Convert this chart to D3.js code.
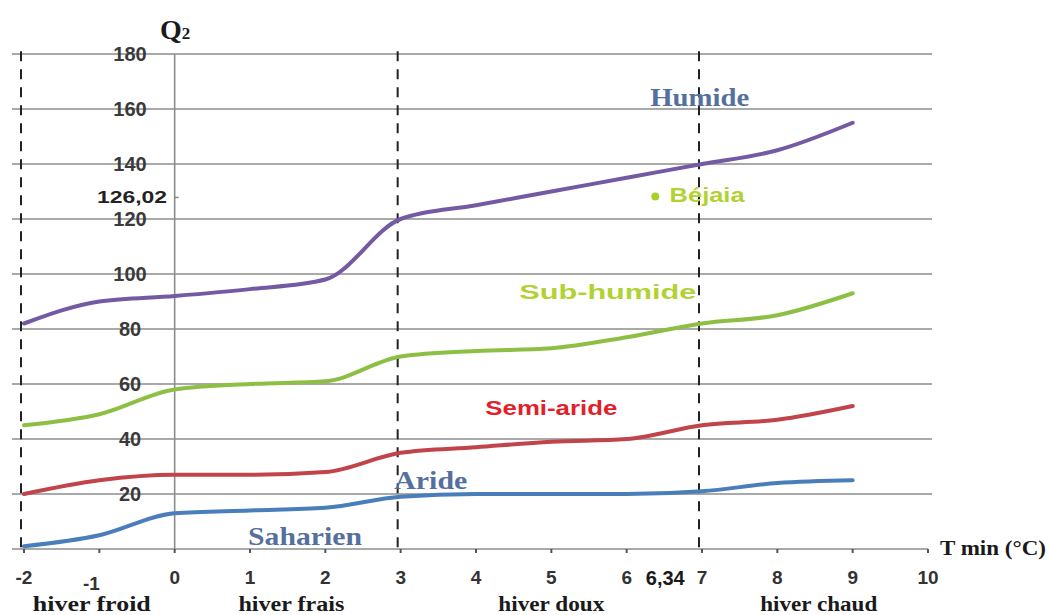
<!DOCTYPE html>
<html>
<head>
<meta charset="utf-8">
<script src="https://cdn.jsdelivr.net/npm/d3@7"></script>
<style>
  body { margin: 0; background: #fff; }
  svg { display: block; }
</style>
</head>
<body>
<script>
//size of the page
var w = 1049;
var h = 615;

//temperature values (T min) and Q2 values
var tmin = [-2, -1, 0, 1, 2, 3, 4, 5, 6, 7, 8, 9];
var humide = [82, 90, 92, 94.5, 98, 120, 125, 130, 135, 140, 145, 155];
var subHumide = [45, 49, 58, 60, 61, 70, 72, 73, 77, 82, 85, 93];
var semiAride = [20, 25, 27, 27, 28, 35, 37, 39, 40, 45, 47, 52];
var aride = [1, 5, 13, 14, 15, 19, 20, 20, 20, 21, 24, 25];

//ticks and the limits between the winter types
var xTicks = [-2, -1, 0, 1, 2, 3, 4, 5, 6, 7, 8, 9, 10];
var yTicks = [20, 40, 60, 80, 100, 120, 140, 160, 180];
var limits = [-2, 3, 7];
var winters = ["hiver froid", "hiver frais", "hiver doux", "hiver chaud"];
var winterPos = [-1.1, 1.55, 5, 8.55];

//Béjaia station
var bejaia = [6.34, 126.02];

var svg = d3.select("body")
            .append("svg")
            .attr("width", w)
            .attr("height", h);

var sans = "Liberation Sans, Arial, sans-serif";
var serif = "Liberation Serif, Times New Roman, serif";

//scales
var x = d3.scaleLinear().domain([-2, 10]).range([24, 928]);
var y = d3.scaleLinear().domain([0, 180]).range([549, 54]);

//horizontal grid lines
svg.selectAll("line.grid")
    .data(yTicks)
    .enter()
    .append("line")
    .attr("class", "grid")
    .attr("x1", 12)
    .attr("x2", 932)
    .attr("y1", function(d) { return y(d); })
    .attr("y2", function(d) { return y(d); })
    .attr("stroke", "#8c8c8c")
    .attr("stroke-width", 1.6);

//x axis line with small ticks
svg.append("line")
    .attr("x1", 12).attr("x2", x(10))
    .attr("y1", y(0)).attr("y2", y(0))
    .attr("stroke", "#8c8c8c")
    .attr("stroke-width", 1.6);

svg.selectAll("line.xtick")
    .data(xTicks)
    .enter()
    .append("line")
    .attr("class", "xtick")
    .attr("x1", function(d) { return x(d); })
    .attr("x2", function(d) { return x(d); })
    .attr("y1", y(0))
    .attr("y2", y(0) + 4)
    .attr("stroke", "#555")
    .attr("stroke-width", 2);

//vertical axis at 0 °C
svg.append("line")
    .attr("x1", x(0)).attr("x2", x(0))
    .attr("y1", y(180)).attr("y2", y(0))
    .attr("stroke", "#8c8c8c")
    .attr("stroke-width", 1.6);

//dashed limits
svg.selectAll("line.limit")
    .data(limits)
    .enter()
    .append("line")
    .attr("class", "limit")
    .attr("x1", function(d) { return x(d) - 3; })
    .attr("x2", function(d) { return x(d) - 3; })
    .attr("y1", y(181))
    .attr("y2", y(0))
    .attr("stroke", "#222")
    .attr("stroke-width", 2)
    .attr("stroke-dasharray", "10,8");

//y labels, sitting on the grid lines
svg.selectAll("text.ylab")
    .data(yTicks)
    .enter()
    .append("text")
    .attr("class", "ylab")
    .attr("x", 130)
    .attr("y", function(d) { return y(d); })
    .attr("dy", "0.36em")
    .attr("text-anchor", "middle")
    .attr("font-family", sans)
    .attr("font-weight", "bold")
    .attr("font-size", 20)
    .attr("fill", "#3a3a3a")
    .text(function(d) { return d; });

//Béjaia Q2 value on the axis
svg.append("text")
    .attr("x", 97)
    .attr("y", y(bejaia[1]) - 5)
    .attr("dy", "0.36em")
    .attr("font-family", sans)
    .attr("font-weight", "bold")
    .attr("font-size", 16)
    .attr("fill", "#222")
    .attr("textLength", 70)
    .attr("lengthAdjust", "spacingAndGlyphs")
    .text("126,02");
svg.append("line")
    .attr("x1", x(0)).attr("x2", x(0) + 4)
    .attr("y1", y(bejaia[1]) - 5).attr("y2", y(bejaia[1]) - 5)
    .attr("stroke", "#888")
    .attr("stroke-width", 1.5);

//x labels
svg.selectAll("text.xlab")
    .data(xTicks)
    .enter()
    .append("text")
    .attr("class", "xlab")
    .attr("x", function(d) { return d === -1 ? x(d) - 8 : x(d); })
    .attr("y", function(d) { return d === -1 ? 590 : 584; })
    .attr("text-anchor", "middle")
    .attr("font-family", sans)
    .attr("font-weight", "bold")
    .attr("font-size", 19)
    .attr("fill", "#333")
    .text(function(d) { return d; });

svg.append("text")
    .attr("x", x(bejaia[0]) + 13)
    .attr("y", 585)
    .attr("text-anchor", "middle")
    .attr("font-family", "Liberation Sans Narrow, Liberation Sans, Arial, sans-serif")
    .attr("font-weight", "bold")
    .attr("font-size", 20)
    .attr("fill", "#1a1a1a")
    .text("6,34");

//winter types
var winterWidth = [118, 106, 106, 117];
svg.selectAll("text.winter")
    .data(winters)
    .enter()
    .append("text")
    .attr("class", "winter")
    .attr("x", function(d, i) { return x(winterPos[i]) - winterWidth[i] / 2; })
    .attr("y", 611)
    .attr("font-family", serif)
    .attr("font-weight", "bold")
    .attr("font-size", 20)
    .attr("fill", "#1a1a1a")
    .attr("textLength", function(d, i) { return winterWidth[i]; })
    .attr("lengthAdjust", "spacingAndGlyphs")
    .text(function(d) { return d; });

//axis titles
var q = svg.append("text")
    .attr("x", 160)
    .attr("y", 39)
    .attr("font-family", serif)
    .attr("font-weight", "bold")
    .attr("font-size", 28)
    .attr("fill", "#1a1a1a");
q.append("tspan").text("Q");
q.append("tspan").attr("font-size", 17).attr("dy", 0).text("2");

svg.append("text")
    .attr("x", 940)
    .attr("y", 555)
    .attr("font-family", serif)
    .attr("font-weight", "bold")
    .attr("font-size", 21)
    .attr("fill", "#1a1a1a")
    .attr("textLength", 106)
    .attr("lengthAdjust", "spacingAndGlyphs")
    .text("T min (°C)");

//the four curves
var series = [
    { name: "humide", values: humide, color: "#7459a3" },
    { name: "subHumide", values: subHumide, color: "#8dbf45" },
    { name: "semiAride", values: semiAride, color: "#c0444a" },
    { name: "aride", values: aride, color: "#4a7ebb" }
];

var line = d3.line()
    .x(function(d, i) { return x(tmin[i]); })
    .y(function(d) { return y(d); })
    .curve(d3.curveMonotoneX);

svg.selectAll("path.curve")
    .data(series)
    .enter()
    .append("path")
    .attr("class", "curve")
    .attr("fill", "none")
    .attr("stroke", function(d) { return d.color; })
    .attr("stroke-width", 4)
    .attr("stroke-linecap", "round")
    .attr("d", function(d) { return line(d.values); });

//Béjaia point
svg.append("circle")
    .attr("cx", x(bejaia[0]) + 3)
    .attr("cy", y(bejaia[1]) - 6)
    .attr("r", 4)
    .attr("fill", "#a8d02a");

//bioclimatic stage labels
var stages = [
    { text: "Humide", t: 6.97, q: 164.4, serif: true, color: "#56709e", size: 26, len: 99 },
    { text: "Aride", t: 3.4, q: 25.3, serif: true, color: "#56709e", size: 26, len: 73 },
    { text: "Saharien", t: 1.73, q: 5, serif: true, color: "#56709e", size: 26, len: 114 },
    { text: "Sub-humide", t: 5.75, q: 93.8, serif: false, color: "#b2d234", size: 21, len: 177 },
    { text: "Semi-aride", t: 5, q: 51.6, serif: false, color: "#e2202a", size: 21, len: 132 },
    { text: "Béjaia", t: 6.57, q: 128.9, serif: false, color: "#b2d234", size: 21, len: 75, start: true }
];

svg.selectAll("text.stage")
    .data(stages)
    .enter()
    .append("text")
    .attr("class", "stage")
    .attr("x", function(d) { return d.start ? x(d.t) : x(d.t) - d.len / 2; })
    .attr("y", function(d) { return y(d.q); })
    .attr("dy", "0.36em")
    .attr("font-family", function(d) { return d.serif ? serif : sans; })
    .attr("font-weight", "bold")
    .attr("font-size", function(d) { return d.size; })
    .attr("fill", function(d) { return d.color; })
    .attr("textLength", function(d) { return d.len; })
    .attr("lengthAdjust", "spacingAndGlyphs")
    .text(function(d) { return d.text; });
</script>
</body>
</html>
